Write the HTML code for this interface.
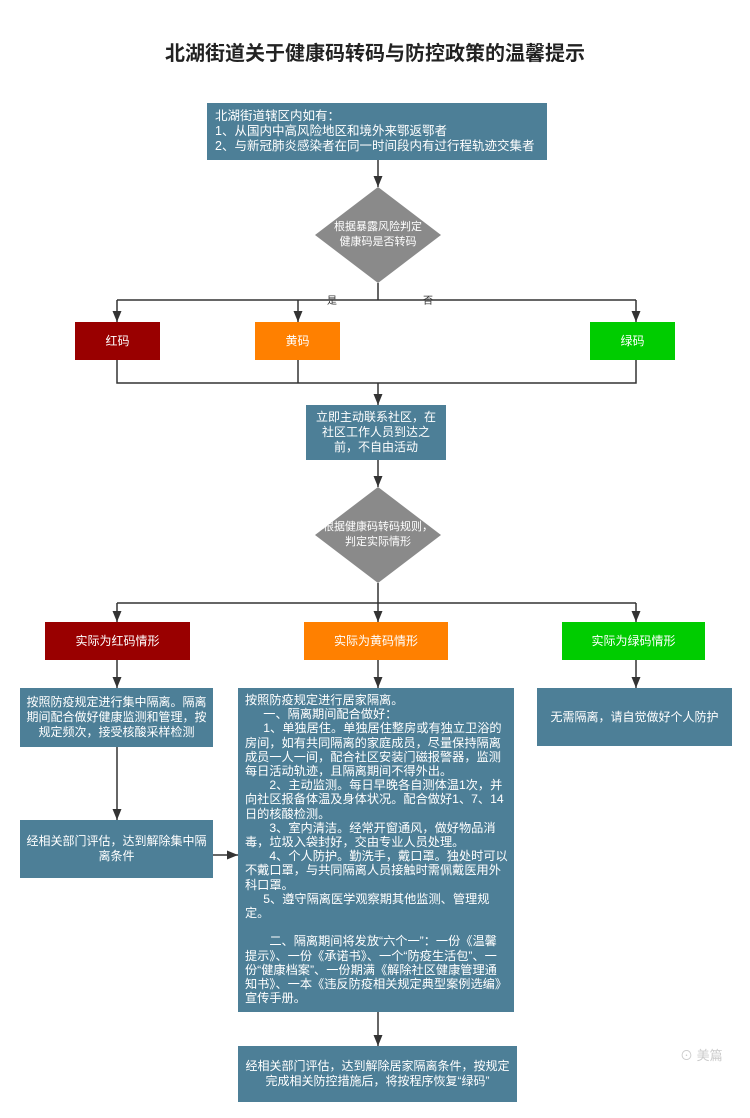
<!DOCTYPE html>
<html><head><meta charset="utf-8"><style>
body{margin:0;width:750px;height:1118px;background:#fff;position:relative;overflow:hidden;font-family:"Liberation Sans","Noto Sans CJK SC",sans-serif;}
.b{position:absolute;background:#4d7f97;color:#fff;font-size:12px;line-height:15px;box-sizing:border-box;}
.c{display:flex;align-items:center;justify-content:center;text-align:center;}
.t{position:absolute;left:0;width:750px;top:37px;text-align:center;font-size:20px;font-weight:bold;color:#222;}
svg{position:absolute;left:0;top:0;}
p{margin:0}
</style></head><body>
<div class="t">北湖街道关于健康码转码与防控政策的温馨提示</div>
<svg width="750" height="1118">
<defs><marker id="a" markerWidth="11" markerHeight="9" refX="11" refY="4.5" orient="auto" markerUnits="userSpaceOnUse"><path d="M0,0 L11,4.5 L0,9 z" fill="#333"/></marker></defs>
<g stroke="#333" stroke-width="1.5" fill="none">
<line x1="378" y1="160" x2="378" y2="187" marker-end="url(#a)"/>
<polyline points="378,283 378,300"/>
<polyline points="117,300 636,300" />
<line x1="117" y1="300" x2="117" y2="322" marker-end="url(#a)"/>
<line x1="298" y1="300" x2="298" y2="322" marker-end="url(#a)"/>
<line x1="636" y1="300" x2="636" y2="322" marker-end="url(#a)"/>
<polyline points="117,360 117,383 636,383 636,360"/>
<line x1="298" y1="360" x2="298" y2="383"/>
<line x1="378" y1="383" x2="378" y2="405" marker-end="url(#a)"/>
<line x1="378" y1="460" x2="378" y2="487" marker-end="url(#a)"/>
<polyline points="378,583 378,603"/>
<polyline points="117,603 636,603"/>
<line x1="117" y1="603" x2="117" y2="622" marker-end="url(#a)"/>
<line x1="378" y1="603" x2="378" y2="622" marker-end="url(#a)"/>
<line x1="636" y1="603" x2="636" y2="622" marker-end="url(#a)"/>
<line x1="117" y1="660" x2="117" y2="688" marker-end="url(#a)"/>
<line x1="378" y1="660" x2="378" y2="688" marker-end="url(#a)"/>
<line x1="636" y1="660" x2="636" y2="688" marker-end="url(#a)"/>
<line x1="117" y1="747" x2="117" y2="820" marker-end="url(#a)"/>
<line x1="213" y1="855" x2="238" y2="855" marker-end="url(#a)"/>
<line x1="378" y1="1012" x2="378" y2="1046" marker-end="url(#a)"/>
</g>
<polygon points="378,187 441,235 378,283 315,235" fill="#8a8a8a"/>
<polygon points="378,487 441,535 378,583 315,535" fill="#8a8a8a"/>
<text x="378" y="230" fill="#fff" font-size="11" text-anchor="middle">根据暴露风险判定</text>
<text x="378" y="245" fill="#fff" font-size="11" text-anchor="middle">健康码是否转码</text>
<text x="378" y="530" fill="#fff" font-size="11" text-anchor="middle">根据健康码转码规则，</text>
<text x="378" y="545" fill="#fff" font-size="11" text-anchor="middle">判定实际情形</text>
<text x="332" y="304" font-size="10" fill="#333" text-anchor="middle">是</text>
<text x="428" y="304" font-size="10" fill="#333" text-anchor="middle">否</text>
<text x="680" y="1060" font-size="13" fill="#ccc">⊙ 美篇</text>
</svg>
<div class="b" style="left:207px;top:103px;width:340px;height:57px;padding:6px 8px;font-size:12.5px;line-height:15px">北湖街道辖区内如有：<br>1、从国内中高风险地区和境外来鄂返鄂者<br>2、与新冠肺炎感染者在同一时间段内有过行程轨迹交集者</div>
<div class="b c" style="left:75px;top:322px;width:85px;height:38px;background:#990000">红码</div>
<div class="b c" style="left:255px;top:322px;width:85px;height:38px;background:#ff8000">黄码</div>
<div class="b c" style="left:590px;top:322px;width:85px;height:38px;background:#00cc00">绿码</div>
<div class="b c" style="left:306px;top:405px;width:140px;height:55px;padding:0 8px;font-size:12px">立即主动联系社区，在社区工作人员到达之前，不自由活动</div>
<div class="b c" style="left:45px;top:622px;width:145px;height:38px;background:#990000">实际为红码情形</div>
<div class="b c" style="left:304px;top:622px;width:144px;height:38px;background:#ff8000">实际为黄码情形</div>
<div class="b c" style="left:562px;top:622px;width:143px;height:38px;background:#00cc00">实际为绿码情形</div>
<div class="b c" style="left:20px;top:688px;width:193px;height:59px;padding:0 5px">按照防疫规定进行集中隔离。隔离期间配合做好健康监测和管理，按规定频次，接受核酸采样检测</div>
<div class="b c" style="left:20px;top:820px;width:193px;height:58px;padding:0 5px">经相关部门评估，达到解除集中隔离条件</div>
<div class="b c" style="left:537px;top:688px;width:195px;height:58px">无需隔离，请自觉做好个人防护</div>
<div class="b" style="left:238px;top:688px;width:276px;height:324px;padding:5px 5px 0 7px;line-height:14.2px;font-size:12.2px">
<p>按照防疫规定进行居家隔离。</p>
<p>&emsp;&ensp;一、隔离期间配合做好：</p>
<p>&emsp;&ensp;1、单独居住。单独居住整房或有独立卫浴的房间，如有共同隔离的家庭成员，尽量保持隔离成员一人一间，配合社区安装门磁报警器，监测每日活动轨迹，且隔离期间不得外出。</p>
<p>&emsp;&emsp;2、主动监测。每日早晚各自测体温1次，并向社区报备体温及身体状况。配合做好1、7、14日的核酸检测。</p>
<p>&emsp;&emsp;3、室内清洁。经常开窗通风，做好物品消毒，垃圾入袋封好，交由专业人员处理。</p>
<p>&emsp;&emsp;4、个人防护。勤洗手，戴口罩。独处时可以不戴口罩，与共同隔离人员接触时需佩戴医用外科口罩。</p>
<p>&emsp;&ensp;5、遵守隔离医学观察期其他监测、管理规定。</p>
<p>&nbsp;</p>
<p>&emsp;&emsp;二、隔离期间将发放“六个一”：一份《温馨提示》、一份《承诺书》、一个“防疫生活包”、一份“健康档案”、一份期满《解除社区健康管理通知书》、一本《违反防疫相关规定典型案例选编》宣传手册。</p>
</div>
<div class="b c" style="left:238px;top:1046px;width:279px;height:56px;padding:0 6px">经相关部门评估，达到解除居家隔离条件，按规定完成相关防控措施后，将按程序恢复“绿码”</div>
</body></html>
